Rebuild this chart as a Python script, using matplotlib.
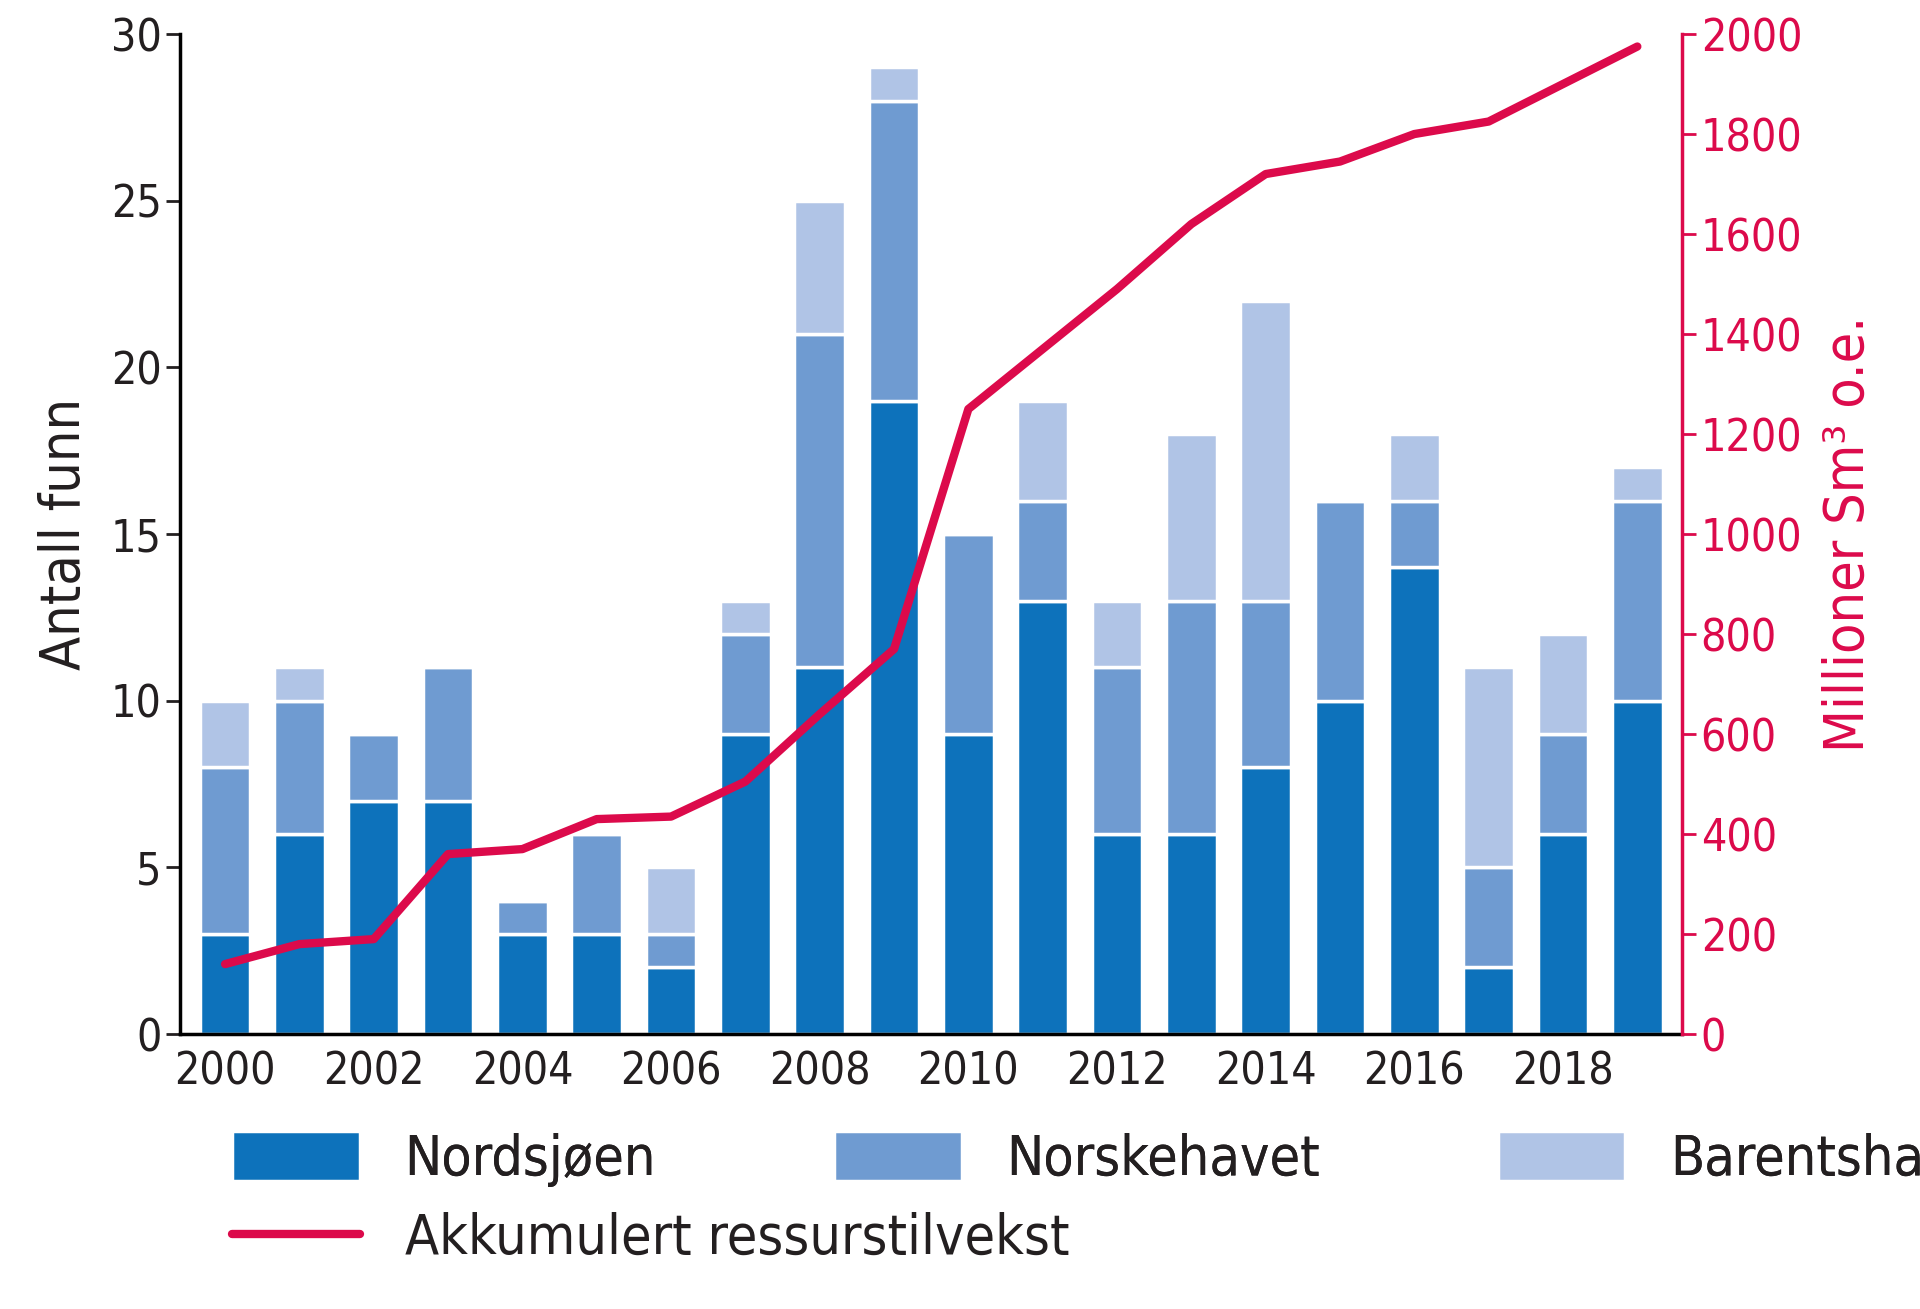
import matplotlib
matplotlib.use("Agg")
import matplotlib.pyplot as plt
import numpy as np
from matplotlib import font_manager

names = {f.name for f in font_manager.fontManager.ttflist}
font = "Liberation Sans Narrow" if "Liberation Sans Narrow" in names else "DejaVu Sans"
plt.rcParams["font.family"] = font
plt.rcParams["font.stretch"] = "condensed"

years = list(range(2000, 2020))
nordsjoen = [3,6,7,7,3,3,2,9,11,19,9,13,6,6,8,10,14,2,6,10]
norskehavet = [5,4,2,4,1,3,1,3,10,9,6,3,5,7,5,6,2,3,3,6]
barentshavet = [2,1,0,0,0,0,2,1,4,1,0,3,2,5,9,0,2,6,3,1]
akkumulert = [140,180,190,360,370,430,435,505,640,770,1250,1370,1490,1620,1720,1745,1800,1825,1900,1975]

c1, c2, c3 = "#0d72bb", "#6f9bd1", "#b0c4e6"
red = "#dc0a4b"
txt = "#231f20"

fig = plt.figure(figsize=(19.2, 13.09), dpi=100)
ax = fig.add_axes([0.094, 0.21, 0.782, 0.764])
x = np.array(years)
w = 0.68
b1 = np.array(nordsjoen); b2 = np.array(norskehavet); b3 = np.array(barentshavet)
ax.bar(x, b1, w, color=c1, edgecolor="white", linewidth=2.5, label="Nordsjøen")
ax.bar(x, b2, w, bottom=b1, color=c2, edgecolor="white", linewidth=2.5, label="Norskehavet")
ax.bar(x, b3, w, bottom=b1+b2, color=c3, edgecolor="white", linewidth=2.5, label="Barentshavet")
ax.set_xlim(1999.4, 2019.6)
ax.set_ylim(0, 30)
ax.set_yticks(range(0, 31, 5))
ax.set_xticks(range(2000, 2019, 2))
ax.tick_params(axis="x", length=0, labelsize=32, pad=12, colors=txt)
ax.tick_params(axis="y", length=10, width=2, labelsize=32, colors=txt)
ax.set_ylabel("Antall funn", fontsize=40, color=txt, labelpad=14)
for s in ["top", "right"]:
    ax.spines[s].set_visible(False)
for s in ["left", "bottom"]:
    ax.spines[s].set_linewidth(2.5)

ax2 = ax.twinx()
ax2.plot(x, akkumulert, color=red, linewidth=6, label="Akkumulert ressurstilvekst", solid_capstyle="round")
ax2.set_ylim(0, 2000)
ax2.set_yticks(range(0, 2001, 200))
ax2.tick_params(axis="y", length=10, width=2, labelsize=32, colors=red)
ax2.set_ylabel("Millioner Sm³ o.e.", fontsize=40, color=red, labelpad=14)
for s in ["top", "left", "bottom"]:
    ax2.spines[s].set_visible(False)
ax2.spines["right"].set_color(red)
ax2.spines["right"].set_linewidth(2.5)

h1, l1 = ax.get_legend_handles_labels()
h2, l2 = ax2.get_legend_handles_labels()
leg1 = fig.legend(h1, l1, loc="lower left", bbox_to_anchor=(0.095, 0.055), ncol=3,
                  frameon=False, fontsize=40, handlelength=2.3, handleheight=1.0,
                  columnspacing=3.2, labelcolor=txt)
fig.legend(h2, l2, loc="lower left", bbox_to_anchor=(0.095, -0.005), ncol=1,
           frameon=False, fontsize=40, handlelength=2.3, labelcolor=txt)
fig.add_artist(leg1)
fig.savefig("out.png", dpi=100)
